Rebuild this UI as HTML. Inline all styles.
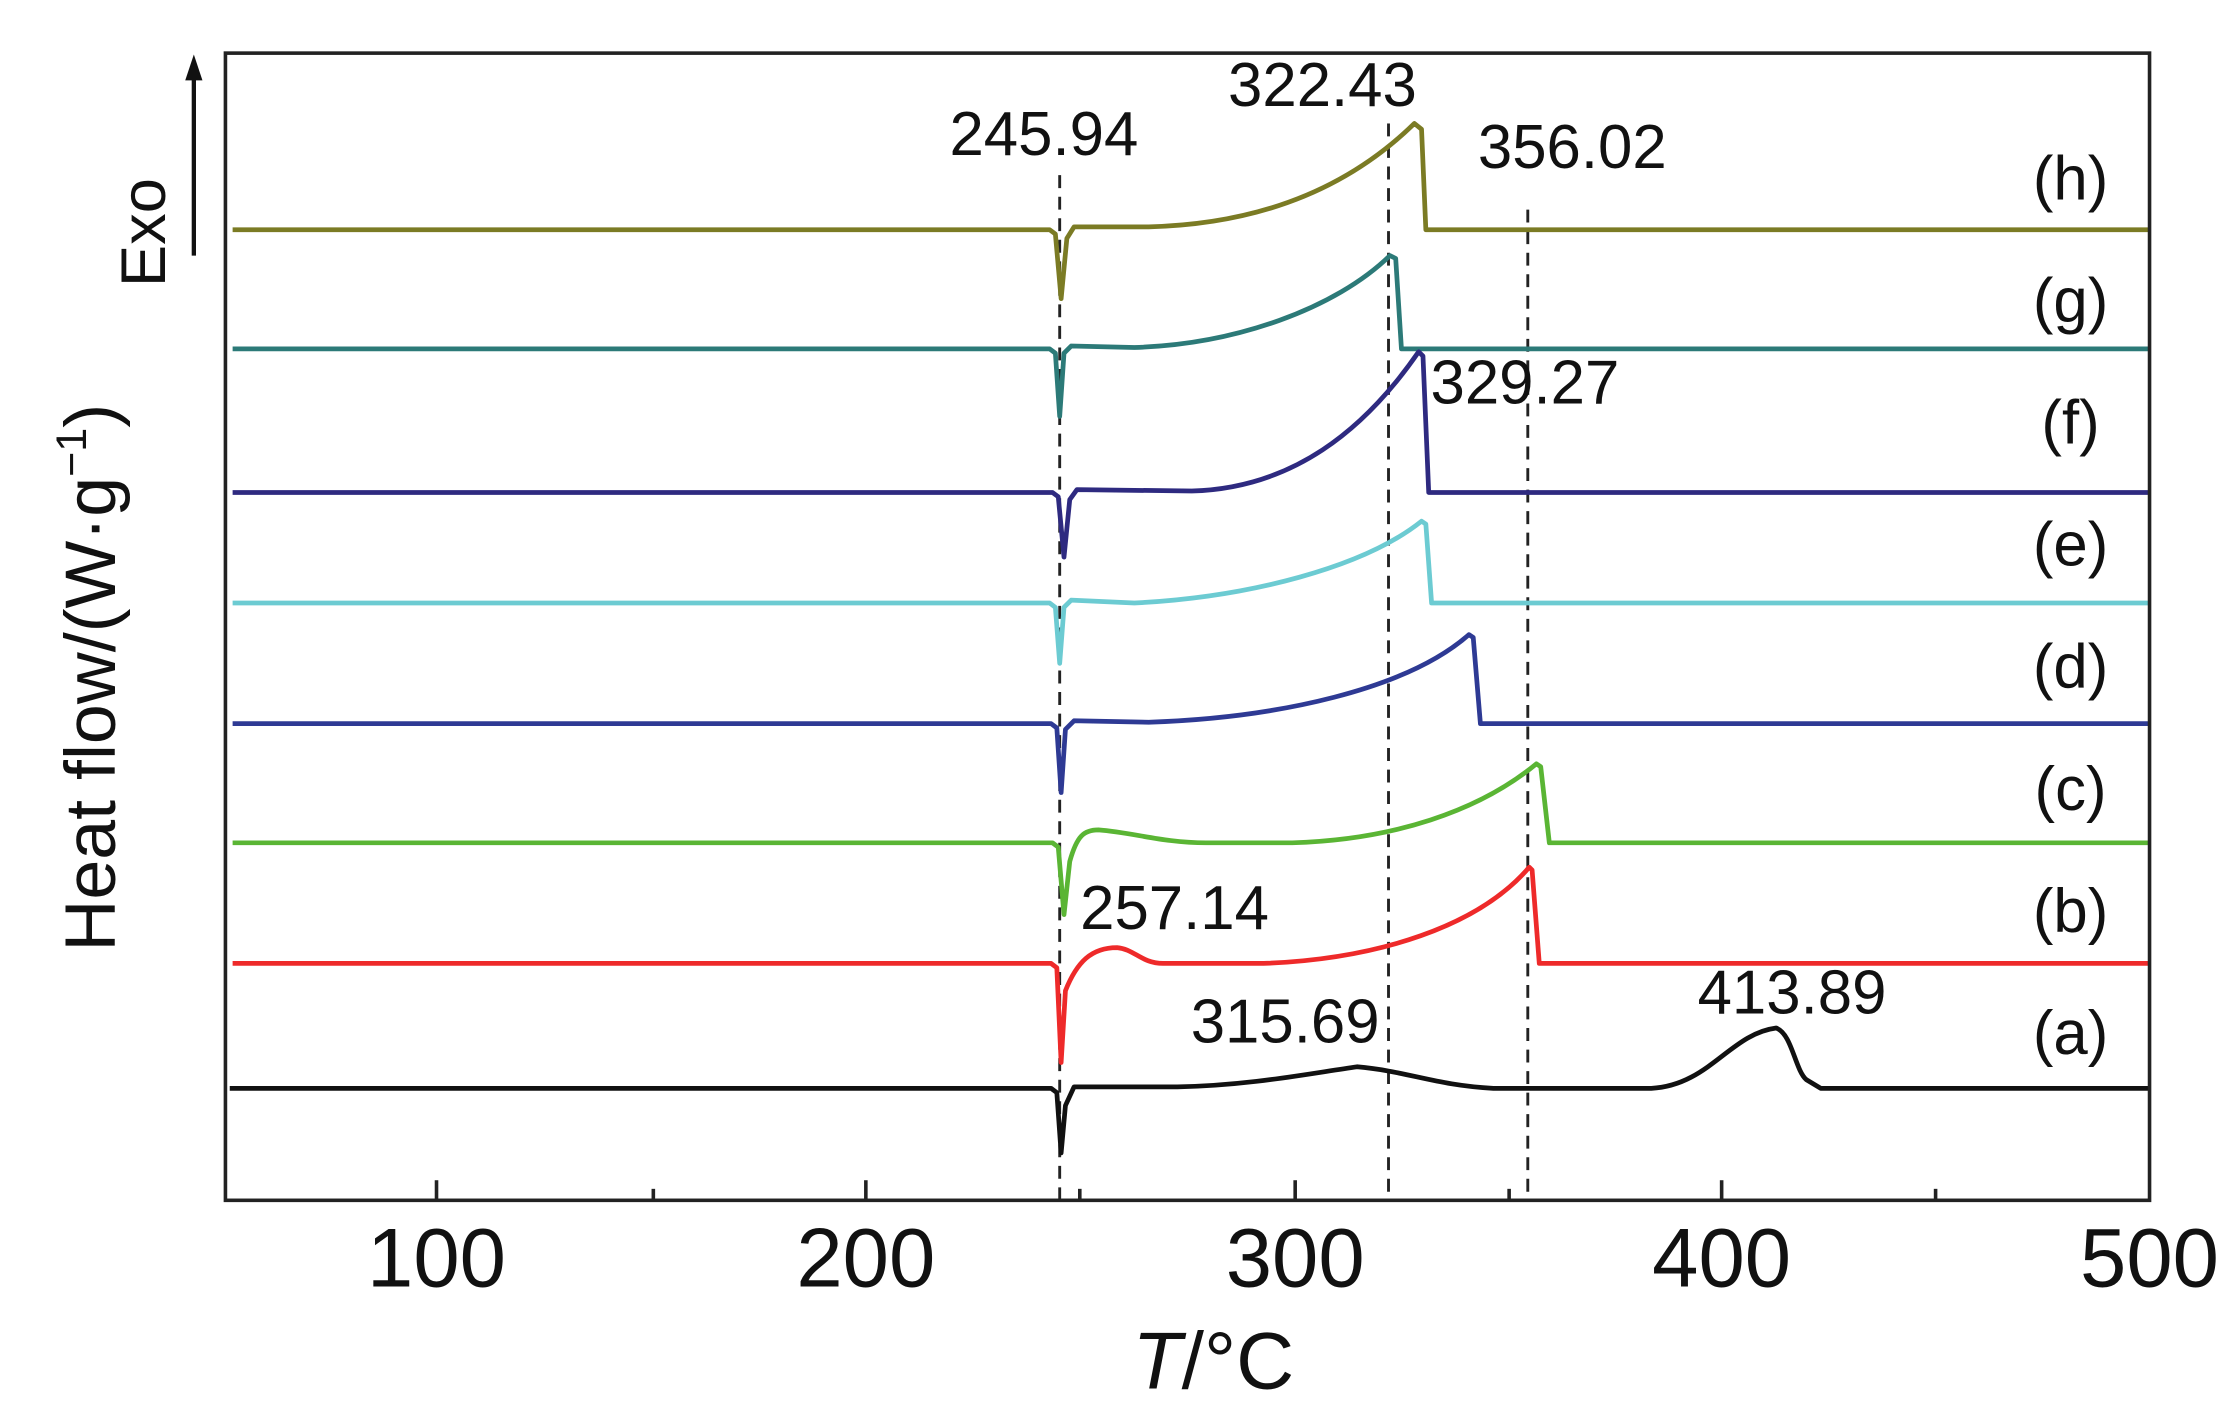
<!DOCTYPE html>
<html><head><meta charset="utf-8"><style>
html,body{margin:0;padding:0;background:#fff;width:2240px;height:1420px;overflow:hidden}
svg{display:block}
text{font-family:"Liberation Sans",sans-serif;fill:#111}
</style></head><body>
<svg width="2240" height="1420" viewBox="0 0 1560 989" preserveAspectRatio="none">
<g stroke="#222" stroke-width="2" stroke-dasharray="9,6" fill="none">
<line x1="738" y1="122" x2="738" y2="836"/>
<line x1="967" y1="86" x2="967" y2="836"/>
<line x1="1064" y1="146" x2="1064" y2="836"/>
</g>
<g fill="none" stroke-width="3.3" stroke-linejoin="round">
<path stroke="#7b7b24" d="M162,160 L731,160 L735,163 L739,208 L743,166 L748,158 L800,158 C880,156 940,130 985,86 L990,90 L993,160 L1497,160"/>
<path stroke="#2c7a78" d="M162,243 L731,243 L735,246 L738,290 L741,246 L746,241 L790,242 C860,240 930,215 968,178 L972,180 L976,243 L1497,243"/>
<path stroke="#2e2a80" d="M162,343 L733,343 L737,346 L741,388 L745,348 L750,341 L830,342 C900,340 950,300 988,245 L991,248 L995,343 L1497,343"/>
<path stroke="#6ccbd2" d="M162,420 L731,420 L735,423 L738,462 L741,423 L746,418 L790,420 C870,416 950,395 990,363 L993,365 L997,420 L1497,420"/>
<path stroke="#2e3a94" d="M162,504 L732,504 L736,507 L739,552 L742,508 L748,502 L800,503 C890,500 980,480 1023,442 L1026,444 L1031,504 L1497,504"/>
<path stroke="#5ab534" d="M162,587 L733,587 L737,590 L741,637 L745,600 C750,582 755,578 765,578 C790,580 810,587 840,587 L900,587 C970,585 1030,565 1070,532 L1073,534 L1079,587 L1497,587"/>
<path stroke="#ee2a2a" d="M162,671 L732,671 L736,674 L739,740 L742,690 C750,670 760,660 778,660 C790,661 795,671 810,671 L880,671 C960,668 1030,645 1065,604 L1067,606 L1072,671 L1497,671"/>
<path stroke="#111" d="M160,758 L732,758 L736,761 L739,803 L742,770 L748,757 L820,757 C870,756 910,748 945,743 C980,746 1000,756 1040,758 L1150,758 C1190,756 1205,720 1237,716 C1248,720 1250,745 1258,752 L1268,758 L1497,758"/>
</g>
<rect x="157" y="37" width="1340" height="799" fill="none" stroke="#222" stroke-width="2.5"/>
<g stroke="#222" stroke-width="2.5">
<line x1="304" y1="836" x2="304" y2="822"/>
<line x1="603" y1="836" x2="603" y2="822"/>
<line x1="902" y1="836" x2="902" y2="822"/>
<line x1="1199" y1="836" x2="1199" y2="822"/>
<line x1="455" y1="836" x2="455" y2="828"/>
<line x1="752" y1="836" x2="752" y2="828"/>
<line x1="1051" y1="836" x2="1051" y2="828"/>
<line x1="1348" y1="836" x2="1348" y2="828"/>
</g>
<g font-size="58" text-anchor="middle">
<text x="304" y="896">100</text>
<text x="603" y="896">200</text>
<text x="902" y="896">300</text>
<text x="1199" y="896">400</text>
<text x="1497" y="896">500</text>
</g>
<text x="845" y="967" font-size="56" text-anchor="middle"><tspan font-style="italic">T</tspan>/°C</text>
<text transform="translate(80,472) rotate(-90)" font-size="50" text-anchor="middle">Heat flow/(W·g<tspan font-size="30" dy="-20">−1</tspan><tspan dy="20">)</tspan></text>
<text transform="translate(115,162) rotate(-90)" font-size="44" text-anchor="middle">Exo</text>
<line x1="135" y1="178" x2="135" y2="52" stroke="#111" stroke-width="3"/>
<polygon points="135,38 129,56 141,56" fill="#111"/>
<g font-size="43" text-anchor="middle">
<text x="1442" y="139">(h)</text>
<text x="1442" y="224">(g)</text>
<text x="1442" y="309">(f)</text>
<text x="1442" y="394">(e)</text>
<text x="1442" y="479">(d)</text>
<text x="1442" y="564">(c)</text>
<text x="1442" y="649">(b)</text>
<text x="1442" y="734">(a)</text>
<text x="727" y="108">245.94</text>
<text x="921" y="74">322.43</text>
<text x="1095" y="117">356.02</text>
<text x="1062" y="281">329.27</text>
<text x="818" y="647">257.14</text>
<text x="895" y="726">315.69</text>
<text x="1248" y="706">413.89</text>
</g>
</svg>
</body></html>
